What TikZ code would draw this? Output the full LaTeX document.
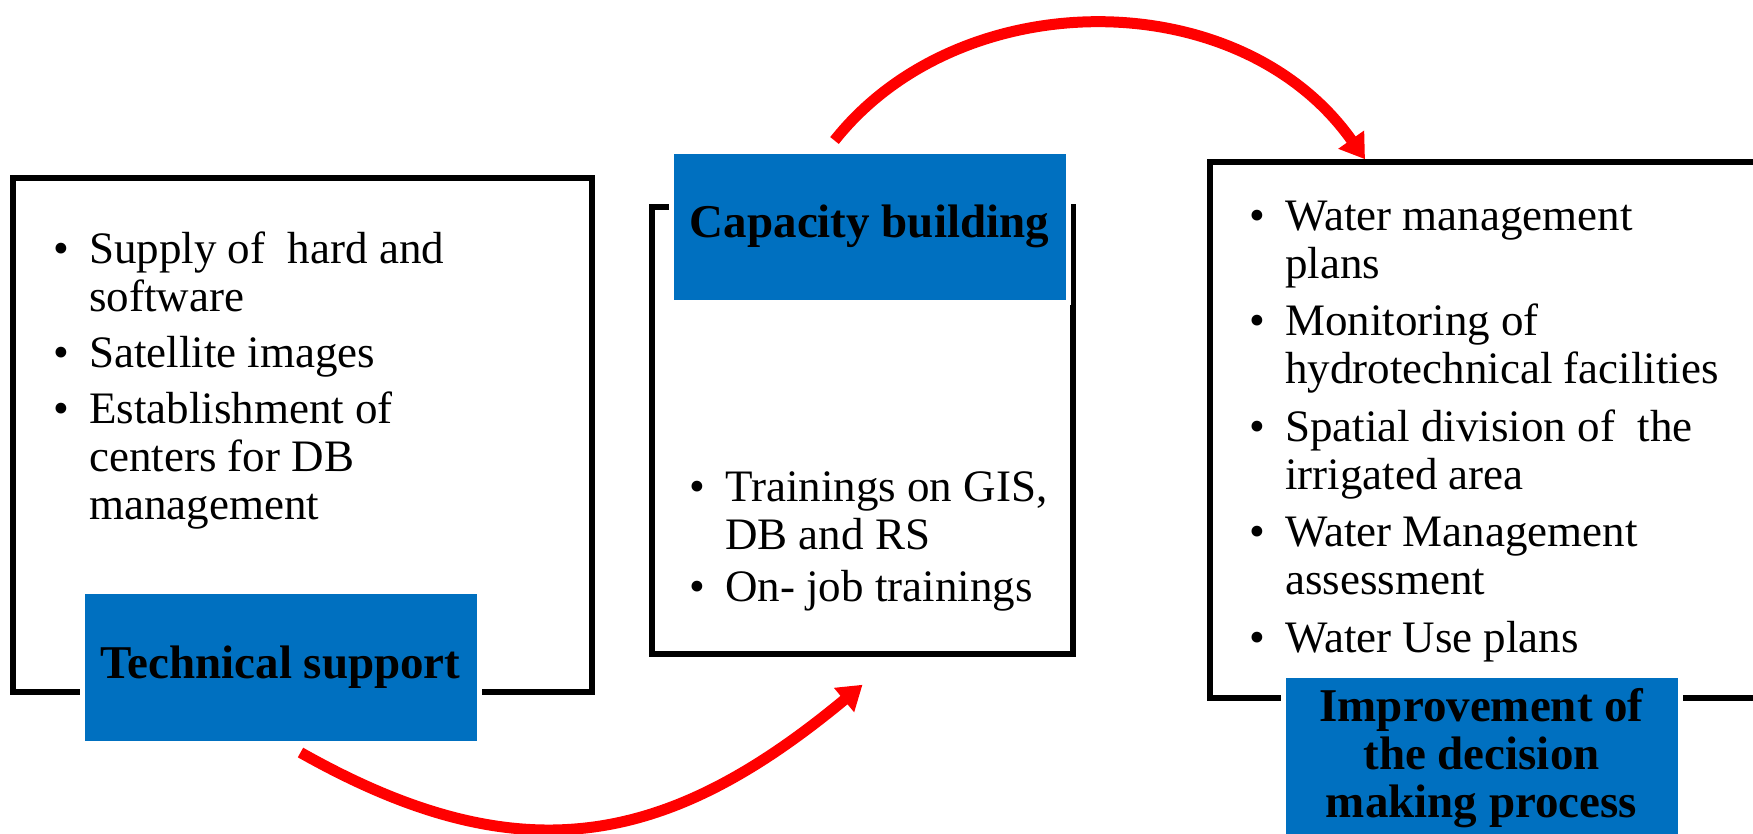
\documentclass[tikz,border=0pt]{standalone}
\usepackage{fontspec}
\setmainfont{Liberation Serif}
\usetikzlibrary{arrows.meta}
\definecolor{tagblue}{RGB}{0,112,192}
\newcommand{\bul}{\makebox[36pt][l]{\textbullet}}
\newcommand{\ind}{\makebox[36pt]{}}

\begin{document}
\begin{tikzpicture}[x=1pt,y=-1pt,
  panel/.style={shape=rectangle, draw, line width=5.5pt, fill=white, inner sep=0pt},
  tag/.style={shape=rectangle, fill=tagblue, draw=white, line width=5pt, inner sep=0pt, align=center, font=\fontsize{47}{48}\selectfont\bfseries},
  items/.style={anchor=base west, inner sep=0pt, align=left, font=\fontsize{45}{48}\selectfont},
  loop/.style={red, line width=11pt, -{Triangle[length=24pt,width=30pt]}}]

\useasboundingbox (0,0) rectangle (1753,833);
\clip (0,0) rectangle (1753,833);

% frames
\node[panel, minimum width=579pt, minimum height=514pt] (tech) at (302.5,435) {};
\node[panel, minimum width=421pt, minimum height=447pt] (cap) at (862.5,430.5) {};
\node[panel, minimum width=580pt, minimum height=536pt] (impr) at (1500,430) {};

% blue titles
\node[tag, minimum width=397pt, minimum height=152pt] (techlbl) at (280.5,667) {Technical support};
\node[tag, minimum width=397pt, minimum height=151pt] (caplbl) at (869.5,226.5) {Capacity building};
\node[tag, minimum width=397pt, minimum height=166pt] (imprlbl) at (1481.5,758) {Improvement of\\the decision\\making process};

% bullet lists (anchored at the last baseline)
\node[items] (techlist) at (53,519) {\bul Supply of~ hard and\\ \ind software\\[8pt] \bul Satellite images\\[8pt] \bul Establishment of\\ \ind centers for DB\\ \ind management};
\node[items] (caplist) at (689,601) {\bul Trainings on GIS,\\ \ind DB and RS\\[4pt] \bul On- job trainings};
\node[items] (imprlist) at (1249,652) {\bul Water management\\ \ind plans\\[9.5pt] \bul Monitoring of\\ \ind hydrotechnical facilities\\[9.5pt] \bul Spatial division of~ the\\ \ind irrigated area\\[9.5pt] \bul Water Management\\ \ind assessment\\[9.5pt] \bul Water Use plans};

% red arrows
\draw[loop] ([xshift=-35pt,yshift=8pt]caplbl.north) .. controls (960,-18) and (1240,-18) .. ([xshift=-135pt]impr.north);
\draw[loop] ([xshift=20pt,yshift=-7pt]techlbl.south) .. controls (521,877) and (668,846) .. ([yshift=-28pt]cap.south);
\end{tikzpicture}
\end{document}
